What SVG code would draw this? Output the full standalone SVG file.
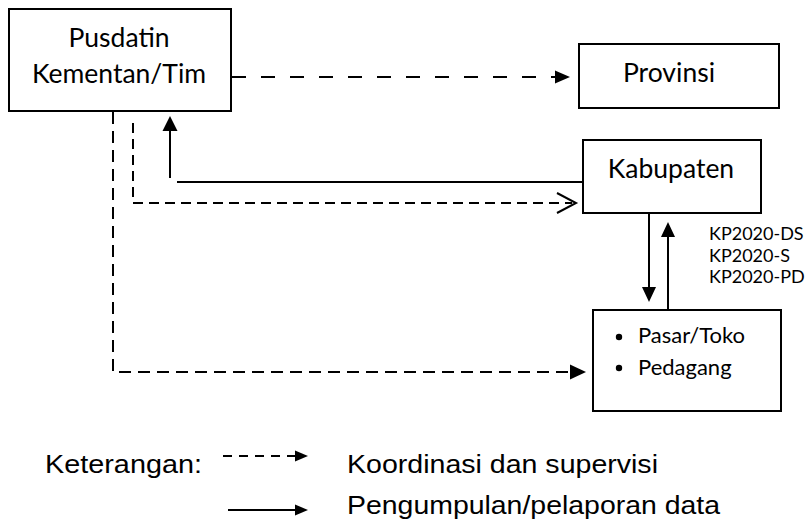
<svg xmlns="http://www.w3.org/2000/svg" width="805" height="525" viewBox="0 0 805 525">
<style>
.box{fill:#fff;stroke:#000;stroke-width:2}
.lbl{font-family:Lato,"Open Sans",sans-serif;fill:#000}
.big{font-size:26.5px}
.mid{font-size:22px}
.sm{font-size:18px}
.leg{font-family:"Liberation Sans",Arial,sans-serif;font-size:25px;fill:#000}
.ln{fill:none;stroke:#000;stroke-width:2}
.ah{fill:#000;stroke:none}
</style>
<rect width="805" height="525" fill="#fff"/>
<g id="connectors">
  <path class="ln" d="M232,77 H556" stroke-dasharray="14 15"/>
  <path class="ah" d="M555,70.5 L570,77 L555,83.5 Z"/>
  <path class="ln" d="M583,182 H177"/>
  <path class="ln" d="M170,178 V130"/>
  <path class="ah" d="M162.5,131 L170,116 L177.5,131 Z"/>
  <path class="ln" d="M133,123 V203 H572" stroke-dasharray="10 6"/>
  <path class="ln" d="M557,193 L576,203 L557,213"/>
  <path class="ln" d="M113,112 V372 H571" stroke-dasharray="12 7"/>
  <path class="ah" d="M570,364.5 L586,372 L570,379.5 Z"/>
  <path class="ln" d="M649,213 V288"/>
  <path class="ah" d="M642,287 L649,302 L656,287 Z"/>
  <path class="ln" d="M668,310 V236"/>
  <path class="ah" d="M661,237 L668,222 L675,237 Z"/>
</g>
<g id="pusdatin">
  <rect class="box" x="9" y="9" width="222" height="102"/>
  <text class="lbl big" x="119" y="47" text-anchor="middle">Pusdatin</text>
  <text class="lbl big" x="119" y="83" text-anchor="middle">Kementan/Tim</text>
</g>
<g id="provinsi">
  <rect class="box" x="579" y="44" width="200" height="64"/>
  <text class="lbl big" x="669" y="82" text-anchor="middle">Provinsi</text>
</g>
<g id="kabupaten">
  <rect class="box" x="583" y="140" width="178" height="73"/>
  <text class="lbl big" x="671" y="178" text-anchor="middle">Kabupaten</text>
</g>
<g id="kp-labels">
  <text class="lbl sm" x="709" y="240">KP2020-DS</text>
  <text class="lbl sm" x="709" y="262">KP2020-S</text>
  <text class="lbl sm" x="709" y="283">KP2020-PD</text>
</g>
<g id="pasar">
  <rect class="box" x="593" y="310" width="188" height="101"/>
  <circle cx="619" cy="337" r="3.2" fill="#000"/>
  <text class="lbl mid" x="638" y="343">Pasar/Toko</text>
  <circle cx="619" cy="368" r="3.2" fill="#000"/>
  <text class="lbl mid" x="638" y="375">Pedagang</text>
</g>
<g id="legend">
  <text class="leg" x="45" y="473" textLength="157" lengthAdjust="spacingAndGlyphs">Keterangan:</text>
  <path d="M223,456 H296" fill="none" stroke="#000" stroke-width="2" stroke-dasharray="9 7"/>
  <path class="ah" d="M295,450.5 L308,456 L295,461.5 Z"/>
  <text class="leg" x="347" y="473" textLength="311" lengthAdjust="spacingAndGlyphs">Koordinasi dan supervisi</text>
  <path d="M228,510 H296" fill="none" stroke="#000" stroke-width="2"/>
  <path class="ah" d="M295,504.5 L308,510 L295,515.5 Z"/>
  <text class="leg" x="347" y="514" textLength="373" lengthAdjust="spacingAndGlyphs">Pengumpulan/pelaporan data</text>
</g>
</svg>
